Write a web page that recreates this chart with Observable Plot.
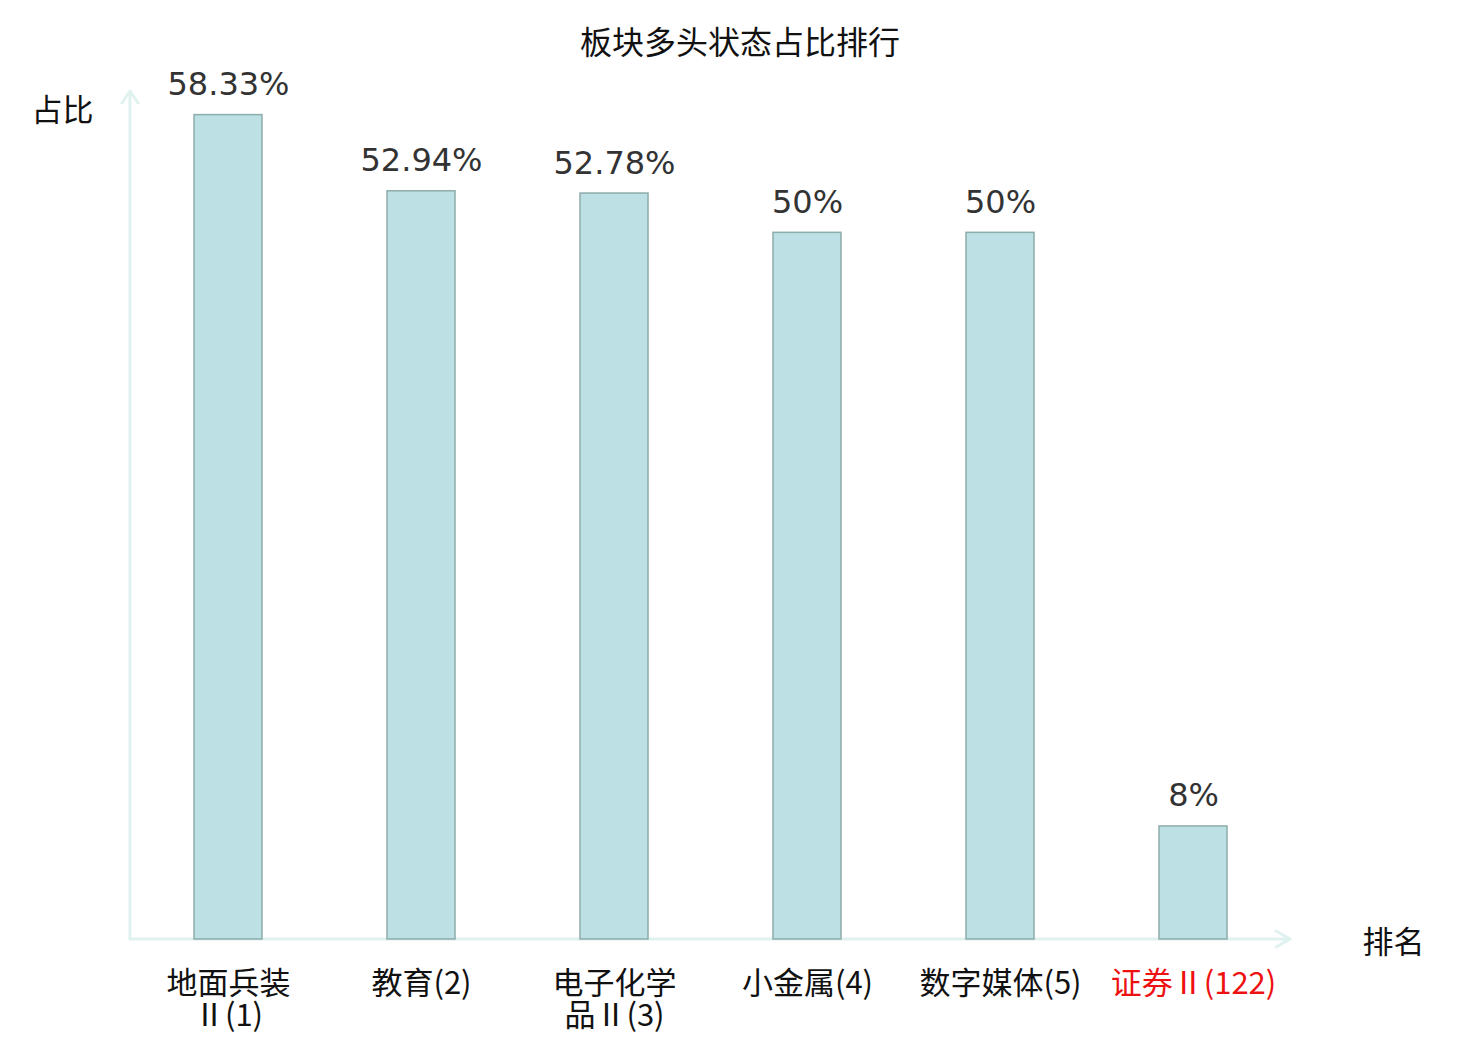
<!DOCTYPE html>
<html>
<head>
<meta charset="utf-8">
<script src="https://cdn.jsdelivr.net/npm/d3@7"></script>
<script src="https://cdn.jsdelivr.net/npm/@observablehq/plot@0.6"></script>
<style>
  html, body { margin: 0; padding: 0; background: #fff; }
  #title { height: 70px; line-height: 80px; text-align: center; font-family: "Noto Sans CJK SC", sans-serif; font-size: 32px; color: #111; width: 1480px; }
</style>
</head>
<body>
<div id="title">板块多头状态占比排行</div>
<div id="chart"></div>
<script>
const categories = ["地面兵装Ⅱ(1)", "教育(2)", "电子化学品Ⅱ(3)", "小金属(4)", "数字媒体(5)", "证券Ⅱ(122)"];
const tickLabels = ["地面兵装\nⅡ(1)", "教育(2)", "电子化学\n品Ⅱ(3)", "小金属(4)", "数字媒体(5)", "证券Ⅱ(122)"];
const values = [58.33, 52.94, 52.78, 50, 50, 8];
const valueLabels = ["58.33%", "52.94%", "52.78%", "50%", "50%", "8%"];
const highlight = [false, false, false, false, false, true];

const data = categories.map((c, i) => ({category: c, value: values[i], label: valueLabels[i], tick: tickLabels[i], hl: highlight[i]}));

const axisColor = "#dff2ef";

function axesMark(index, scales, values, dims) {
  const {width, height, marginLeft, marginRight, marginTop, marginBottom} = dims;
  const x0 = marginLeft, x1 = width - marginRight;
  const yb = height - marginBottom, yt = marginTop;
  const g = d3.create("svg:g").attr("fill", "none").attr("stroke", axisColor).attr("stroke-width", 3).attr("stroke-linecap", "round").attr("stroke-linejoin", "round");
  g.append("path").attr("d", `M${x0},${yb}V${yt}`);
  g.append("path").attr("d", `M${x0 - 8},${yt + 12}L${x0},${yt}L${x0 + 8},${yt + 12}`);
  g.append("path").attr("d", `M${x0},${yb}H${x1}`);
  g.append("path").attr("d", `M${x1 - 14},${yb - 8}L${x1},${yb}L${x1 - 14},${yb + 8}`);
  return g.node();
}

const chart = Plot.plot({
  width: 1480,
  height: 970,
  marginLeft: 130,
  marginRight: 190,
  marginTop: 21,
  marginBottom: 101,
  style: {background: "#fff", overflow: "visible"},
  x: {domain: categories, paddingInner: 0.65, paddingOuter: 0.325, axis: null},
  y: {domain: [0, 60], axis: null},
  marks: [
    axesMark,
    Plot.barY(data, {x: "category", y: "value", fill: "#bce0e3", stroke: "#8eacab", strokeWidth: 1.5}),
    Plot.text(data, {x: "category", y: "value", text: "label", lineAnchor: "bottom", dy: -20, fontSize: 32, fill: "#333", fontFamily: "DejaVu Sans"}),
    Plot.text(data, {x: "category", frameAnchor: "bottom", text: "tick", lineAnchor: "top", dy: 31, lineHeight: 1.05, fontSize: 31, fill: d => d.hl ? "#ee1111" : "#111", fontFamily: "Noto Sans CJK SC"}),
    Plot.text(["占比"], {frameAnchor: "top-left", text: d => d, textAnchor: "end", dx: -37, dy: 7, fontSize: 31, fill: "#111", fontFamily: "Noto Sans CJK SC"}),
    Plot.text(["排名"], {frameAnchor: "bottom-right", text: d => d, textAnchor: "start", dx: 72, dy: 13, fontSize: 31, fill: "#111", fontFamily: "Noto Sans CJK SC"})
  ]
});
document.getElementById("chart").appendChild(chart);
</script>
</body>
</html>
